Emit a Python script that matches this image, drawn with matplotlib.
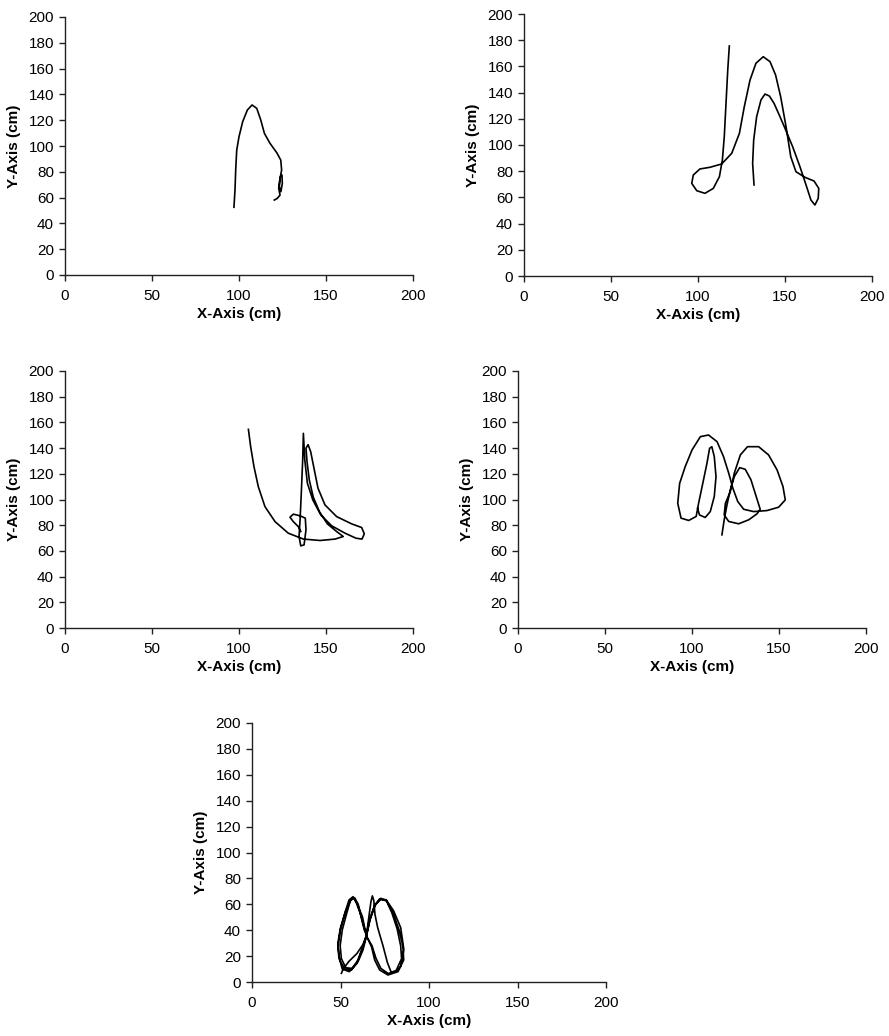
import matplotlib
matplotlib.use("Agg")
import matplotlib.pyplot as plt

plt.rcParams['font.family'] = ['Liberation Sans', 'DejaVu Sans']

# trajectory 1
x1 = [97.1, 97.7, 98.1, 98.7, 100.0, 102.1, 104.8, 107.5, 110.2, 112.5, 114.6, 117.8,
      121.7, 124.0, 124.5, 123.6, 123.2, 124.1, 124.9, 124.7, 123.6, 122.8, 123.6, 122.0, 120.3]
y1 = [52.5, 65.9, 81.4, 96.9, 107.2, 118.8, 127.9, 131.8, 129.2, 120.2, 109.8, 102.1,
      94.8, 89.1, 81.4, 75.0, 68.5, 64.6, 71.1, 77.5, 75.7, 67.2, 62.0, 59.4, 58.1]

# trajectory 2
x2 = [118.0, 117.1, 116.1, 115.1, 114.0, 112.3, 108.8, 104.0, 99.3, 96.4, 97.3, 101.1,
      106.9, 113.6, 119.4, 123.8, 126.6, 129.9, 133.3, 137.5, 141.4, 144.6, 147.5, 150.6,
      153.3, 156.3, 161.5, 166.7, 169.4, 169.1, 167.2, 164.9, 162.1, 158.6, 154.4, 150.0,
      146.7, 143.7, 141.0, 138.5, 136.2, 133.7, 132.0, 131.4, 132.2]
y2 = [175.6, 157.3, 131.8, 106.3, 88.5, 75.8, 66.9, 63.1, 65.1, 70.7, 77.1, 81.7,
      83.0, 85.5, 93.7, 108.9, 129.2, 149.6, 162.4, 167.4, 163.6, 153.4, 136.9, 114.0,
      91.1, 79.6, 75.3, 72.5, 66.9, 59.3, 54.2, 58.0, 69.5, 83.4, 98.7, 112.7,
      122.9, 131.8, 137.4, 138.9, 134.4, 121.6, 103.8, 86.0, 69.5]

# trajectory 3
x3 = [105.4, 106.7, 108.6, 111.1, 114.9, 120.7, 128.3, 137.0, 146.6, 155.2, 159.9, 156.1,
      150.8, 146.2, 142.7, 140.4, 139.1, 138.5, 139.7, 141.2, 143.1, 145.4, 149.4, 156.1,
      164.8, 170.5, 172.0, 170.7, 167.2, 160.9, 153.3, 147.0, 142.4, 139.3, 137.8, 137.0,
      136.6, 135.8, 135.1, 134.5, 135.5, 137.4, 138.5, 138.1, 135.1, 131.2, 129.3, 131.2,
      134.1, 135.5]
y3 = [154.6, 141.1, 125.6, 110.0, 94.5, 82.8, 73.8, 69.2, 68.1, 69.2, 71.2, 75.1,
      81.0, 90.6, 101.8, 115.2, 129.4, 139.9, 142.7, 137.2, 124.3, 108.8, 95.8, 86.7,
      81.0, 78.2, 73.3, 69.2, 69.9, 73.8, 79.5, 88.0, 99.7, 112.7, 130.8, 151.5,
      130.8, 104.9, 84.1, 71.2, 63.9, 64.7, 76.4, 85.5, 87.3, 88.6, 86.2, 82.8,
      78.9, 75.1]

# trajectory 4
x4 = [117.2, 118.5, 120.1, 122.0, 124.3, 127.4, 130.6, 133.9, 136.9, 139.2, 137.3, 132.6,
      126.8, 121.1, 118.5, 119.2, 122.0, 124.3, 127.8, 131.9, 138.3, 144.0, 148.9, 152.3,
      153.6, 149.8, 143.1, 135.4, 129.7, 126.3, 123.5, 121.1, 118.1, 114.4, 109.5, 104.8,
      100.0, 96.1, 92.9, 91.8, 93.7, 98.1, 102.4, 103.8, 105.8, 108.6, 110.1, 111.4,
      112.8, 113.8, 112.8, 110.5, 107.6, 104.3, 103.2]
y4 = [72.5, 84.2, 95.8, 107.4, 117.8, 124.8, 123.5, 115.3, 102.3, 92.4, 88.8, 84.2,
      81.1, 82.9, 88.0, 97.1, 106.1, 120.5, 134.7, 141.1, 141.1, 134.7, 123.0, 110.0,
      99.7, 94.0, 91.4, 90.6, 92.4, 98.4, 108.7, 120.5, 133.4, 145.0, 150.2, 148.9,
      138.5, 125.6, 112.6, 97.1, 85.5, 83.7, 86.8, 97.1, 110.0, 128.2, 139.8, 141.1,
      133.4, 117.8, 102.3, 90.6, 86.0, 88.0, 93.2]

# trajectory 5 (figure-eight, several laps)
x5 = [50.5, 51.5, 54.8, 59.3, 62.7,
      64.6, 62.4, 59.3, 57.1, 54.8, 52.4, 49.9, 48.6, 49.5, 52.4, 56.2, 59.9, 62.7, 64.6,
      66.5, 69.3, 72.7, 75.9, 79.7, 83.1, 85.3, 85.7, 82.5, 76.8, 72.1, 69.3, 67.5,
      64.6, 61.8, 59.0, 57.5, 55.5, 53.5, 51.0, 49.8, 50.5, 53.0, 56.5, 60.0, 62.5, 64.6,
      66.8, 69.8, 73.0, 76.0, 79.0, 82.0, 84.0, 84.5, 81.5, 77.0, 72.8, 70.0, 67.8,
      64.6, 66.0, 67.2, 68.0, 68.8, 69.5, 71.0, 74.0, 76.5, 78.5, 81.0, 84.0, 85.8, 84.0,
      80.0, 76.0, 72.0, 69.0, 66.0, 64.6, 62.0, 59.0, 55.0, 51.0, 49.0, 48.5, 50.0, 53.0,
      56.0, 58.0, 60.0, 62.0, 63.5]
y5 = [6.7, 10.0, 16.0, 22.0, 29.0,
      35.6, 50.4, 60.8, 65.9, 63.3, 53.0, 40.2, 27.3, 17.0, 9.8, 9.3, 15.7, 24.7, 35.0,
      47.9, 59.5, 64.6, 63.3, 53.0, 40.2, 27.3, 17.0, 8.0, 5.4, 9.3, 17.0, 27.3,
      35.6, 50.4, 61.0, 65.0, 62.5, 53.0, 40.2, 28.0, 18.0, 11.0, 10.5, 17.0, 26.0, 35.6,
      48.5, 60.0, 64.0, 62.5, 53.5, 41.0, 28.0, 18.0, 9.0, 6.5, 10.5, 18.5, 28.0,
      35.6, 50.0, 62.0, 66.5, 63.0, 52.0, 42.0, 28.0, 15.0, 8.0, 7.5, 12.0, 25.0, 42.0,
      55.0, 63.0, 64.0, 58.0, 46.0, 35.6, 25.0, 14.0, 8.0, 10.0, 20.0, 30.0, 42.0, 55.0,
      64.0, 65.0, 60.0, 48.0, 40.0]

x_ticks = [0, 50, 100, 150, 200]
y_ticks = [0, 20, 40, 60, 80, 100, 120, 140, 160, 180, 200]

W, H = 889, 1036
fig = plt.figure(figsize=(W / 100, H / 100), dpi=100)

# panel boxes in pixels: left, right, top, bottom
boxes = [(65, 413, 17, 275), (524, 872, 14, 276),
         (65, 413, 371, 628), (518, 866, 371, 628),
         (252, 606, 723, 982)]
series = [(x1, y1), (x2, y2), (x3, y3), (x4, y4), (x5, y5)]

for (l, r, t, b), (xs, ys) in zip(boxes, series):
    ax = fig.add_axes([l / W, 1 - b / H, (r - l) / W, (b - t) / H])
    ax.plot(xs, ys, color='black', linewidth=1.2)
    ax.set_xlim(0, 200)
    ax.set_ylim(0, 200)
    ax.set_xticks(x_ticks)
    ax.set_yticks(y_ticks)
    ax.spines['top'].set_visible(False)
    ax.spines['right'].set_visible(False)
    for s in ('left', 'bottom'):
        ax.spines[s].set_linewidth(1.0)
        ax.spines[s].set_color('#222222')
    ax.tick_params(direction='out', length=4, width=1.0, labelsize=11, colors='#222222')
    ax.tick_params(labelcolor='black')
    ax.tick_params(axis='x', pad=6)
    ax.tick_params(axis='y', pad=4)
    ax.set_xlabel('X-Axis (cm)', fontsize=11, fontweight='bold', labelpad=3)
    ax.set_ylabel('Y-Axis (cm)', fontsize=11, fontweight='bold', labelpad=5)

fig.savefig('out.png', dpi=100)
